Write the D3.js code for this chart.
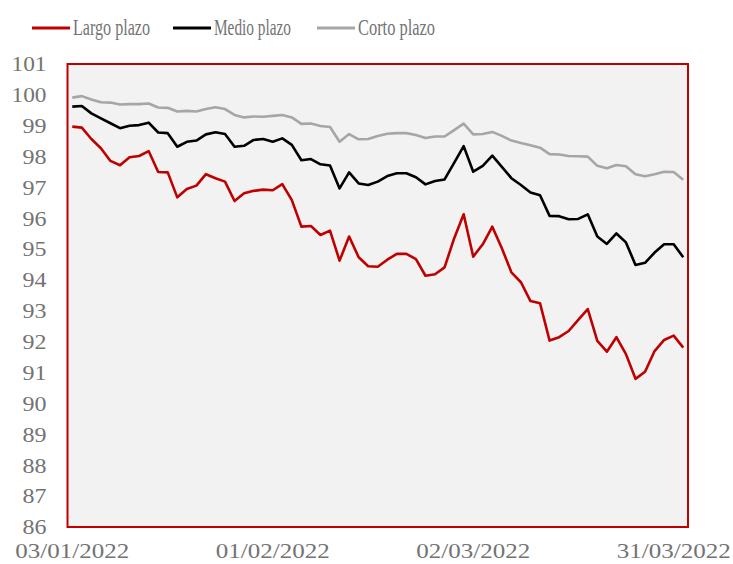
<!DOCTYPE html>
<html>
<head>
<meta charset="utf-8">
<script src="https://cdn.jsdelivr.net/npm/d3@7"></script>
<style>
  html, body { margin: 0; padding: 0; background: #ffffff; }
  svg { display: block; }
</style>
</head>
<body>
<svg id="chart" width="733" height="564"></svg>
<script>
const dates = [
  "03/01/2022","04/01/2022","05/01/2022","06/01/2022","07/01/2022","10/01/2022","11/01/2022","12/01/2022","13/01/2022","14/01/2022",
  "17/01/2022","18/01/2022","19/01/2022","20/01/2022","21/01/2022","24/01/2022","25/01/2022","26/01/2022","27/01/2022","28/01/2022","31/01/2022",
  "01/02/2022","02/02/2022","03/02/2022","04/02/2022","07/02/2022","08/02/2022","09/02/2022","10/02/2022","11/02/2022","14/02/2022",
  "15/02/2022","16/02/2022","17/02/2022","18/02/2022","21/02/2022","22/02/2022","23/02/2022","24/02/2022","25/02/2022","28/02/2022",
  "01/03/2022","02/03/2022","03/03/2022","04/03/2022","07/03/2022","08/03/2022","09/03/2022","10/03/2022","11/03/2022","14/03/2022",
  "15/03/2022","16/03/2022","17/03/2022","18/03/2022","21/03/2022","22/03/2022","23/03/2022","24/03/2022","25/03/2022","28/03/2022",
  "29/03/2022","30/03/2022","31/03/2022","01/04/2022"
];

const largoPlazo = [
  98.97,98.94,98.57,98.27,97.86,97.72,97.98,98.02,98.18,97.50,
  97.49,96.68,96.95,97.06,97.43,97.30,97.19,96.56,96.81,96.89,96.93,
  96.91,97.11,96.59,95.73,95.75,95.46,95.60,94.63,95.41,94.74,
  94.45,94.43,94.66,94.85,94.85,94.68,94.14,94.19,94.41,95.35,
  96.13,94.76,95.16,95.73,95.03,94.25,93.93,93.32,93.25,92.04,
  92.15,92.35,92.71,93.06,92.03,91.68,92.15,91.60,90.80,91.03,
  91.70,92.06,92.20,91.81
];
const medioPlazo = [
  99.62,99.64,99.40,99.24,99.08,98.92,99.00,99.02,99.10,98.78,
  98.76,98.32,98.48,98.52,98.72,98.79,98.73,98.32,98.35,98.54,98.57,
  98.48,98.59,98.38,97.88,97.92,97.75,97.71,96.97,97.49,97.13,
  97.08,97.19,97.37,97.46,97.46,97.33,97.10,97.21,97.26,97.80,
  98.34,97.51,97.70,98.03,97.67,97.30,97.08,96.84,96.75,96.08,
  96.07,95.97,95.98,96.13,95.41,95.17,95.51,95.22,94.49,94.56,
  94.89,95.16,95.16,94.74
];
const cortoPlazo = [
  99.91,99.96,99.85,99.76,99.75,99.69,99.70,99.70,99.72,99.59,
  99.58,99.46,99.48,99.46,99.54,99.60,99.54,99.35,99.27,99.30,99.29,
  99.32,99.35,99.27,99.06,99.07,98.99,98.96,98.48,98.73,98.56,
  98.57,98.67,98.74,98.76,98.76,98.70,98.60,98.65,98.65,98.86,
  99.07,98.72,98.73,98.80,98.67,98.52,98.44,98.37,98.29,98.08,
  98.07,98.02,98.01,98.00,97.70,97.62,97.73,97.69,97.43,97.36,
  97.43,97.51,97.50,97.25
];
const yTicks = [86,87,88,89,90,91,92,93,94,95,96,97,98,99,100,101];
const xTickLabels = ["03/01/2022","01/02/2022","02/03/2022","31/03/2022"];
const seriesNames = ["Largo plazo","Medio plazo","Corto plazo"];
const seriesColors = ["#C00000","#000000","#A6A6A6"];

(function () {
const series = [largoPlazo, medioPlazo, cortoPlazo].map((vals, k) => ({
  name: seriesNames[k], color: seriesColors[k],
  values: vals.map((v, i) => ({date: dates[i], value: v}))
}));

const svg = d3.select("#chart");
const pLeft = 67.5, pRight = 688, pTop = 64, pBottom = 527;
const textColor = "#737373";
const fontFamily = "'Liberation Serif', 'Times New Roman', serif";

const x = d3.scaleBand().domain(dates).range([pLeft, pRight]).padding(0);
const y = d3.scaleLinear().domain([86, 101]).range([pBottom, pTop]);
const xc = d => x(d) + x.bandwidth() / 2;

svg.append("rect")
  .attr("x", pLeft).attr("y", pTop)
  .attr("width", pRight - pLeft).attr("height", pBottom - pTop)
  .attr("fill", "#F2F2F2");

const line = d3.line().x(d => xc(d.date)).y(d => y(d.value));
svg.append("g").selectAll("path")
  .data(series.slice().reverse())
  .join("path")
  .attr("d", d => line(d.values))
  .attr("fill", "none")
  .attr("stroke", d => d.color)
  .attr("stroke-width", 2.6)
  .attr("stroke-linejoin", "round");

svg.append("rect")
  .attr("x", pLeft).attr("y", pTop)
  .attr("width", pRight - pLeft).attr("height", pBottom - pTop)
  .attr("fill", "none")
  .attr("stroke", "#C00000").attr("stroke-width", 2);

const yAxis = svg.append("g")
  .attr("transform", `translate(${pLeft - 21},0)`)
  .call(d3.axisLeft(y).tickValues(yTicks).tickSize(0).tickPadding(0).tickFormat(d3.format("d")));
yAxis.select(".domain").remove();
yAxis.selectAll("text")
  .attr("fill", textColor)
  .style("font-family", fontFamily)
  .style("font-size", "21px")
  .attr("textLength", d => d >= 100 ? 35 : 24)
  .attr("lengthAdjust", "spacingAndGlyphs");

const xAxis = svg.append("g")
  .attr("transform", `translate(0,${pBottom + 16})`)
  .call(d3.axisBottom(x).tickValues(xTickLabels).tickSize(0).tickPadding(0));
xAxis.select(".domain").remove();
xAxis.selectAll("text")
  .attr("fill", textColor)
  .style("font-family", fontFamily)
  .style("font-size", "21px")
  .attr("textLength", 114)
  .attr("lengthAdjust", "spacingAndGlyphs");

const legendX = [32, 173, 317];
const legend = svg.append("g");
series.forEach((s, k) => {
  const g = legend.append("g").attr("transform", `translate(${legendX[k]},28)`);
  g.append("line").attr("x1", 0).attr("x2", 38).attr("y1", 0).attr("y2", 0)
    .attr("stroke", s.color).attr("stroke-width", 3);
  g.append("text").attr("x", 41).attr("y", 7)
    .attr("fill", textColor)
    .style("font-family", fontFamily)
    .style("font-size", "24px")
    .attr("textLength", 77).attr("lengthAdjust", "spacingAndGlyphs")
    .text(s.name);
});
})();
</script>
</body>
</html>
